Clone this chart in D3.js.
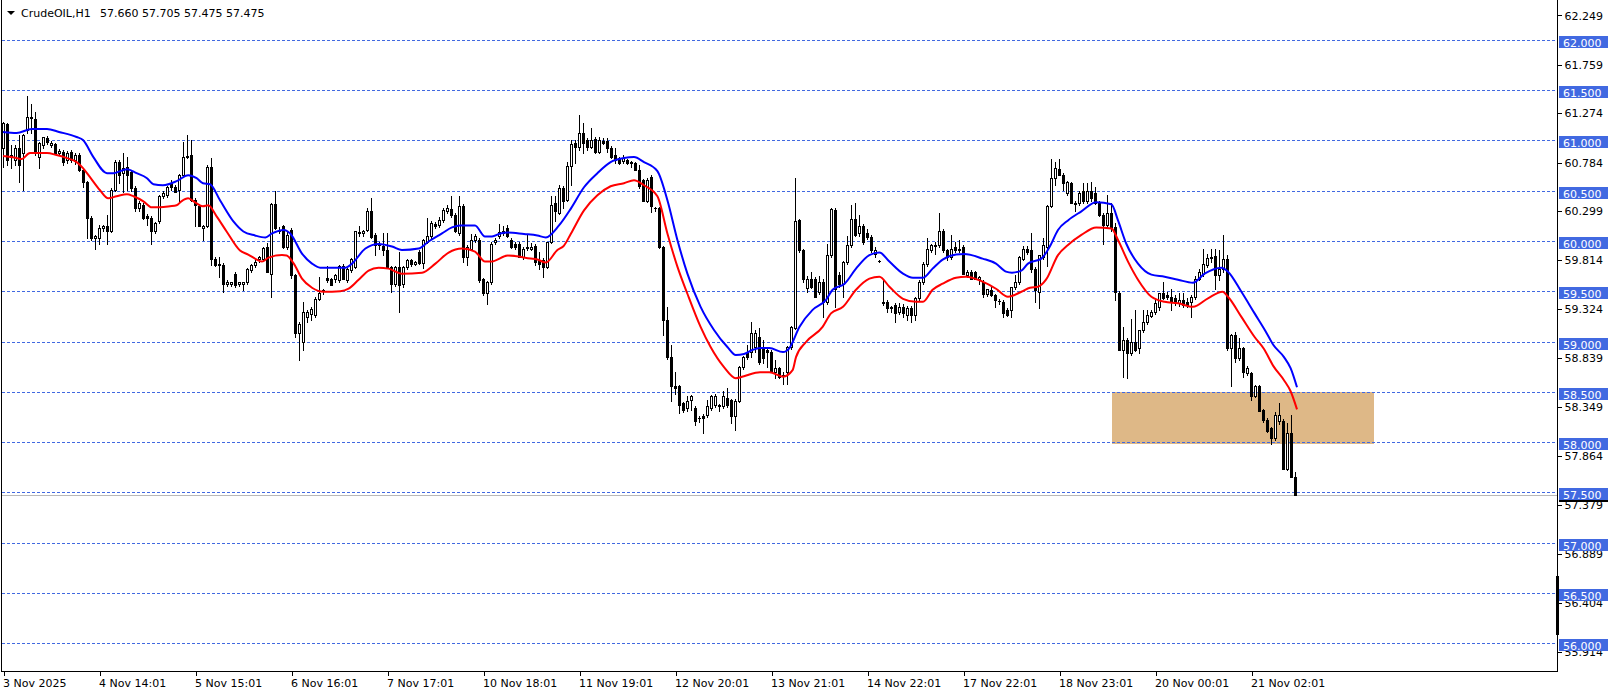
<!DOCTYPE html>
<html><head><meta charset="utf-8">
<script src="https://cdn.jsdelivr.net/npm/d3@7"></script>
<style>
body{margin:0;background:#fff;}
svg{display:block;}
text{font-family:"DejaVu Sans",sans-serif;font-size:11px;}
</style>
</head><body><svg id="c" width="1614" height="695"></svg>
<script>
// ---------------- data ----------------
const symbolTitle = "CrudeOIL,H1";
const ohlcTitle = "57.660 57.705 57.475 57.475";

const opens = [
60.93,61.17,60.86,60.81,60.93,60.88,61.11,61.24,61.22,60.84,
60.96,61.03,60.96,60.97,60.88,60.89,60.81,60.89,60.81,60.86,
60.71,60.59,60.23,60.03,60.03,60.13,60.15,60.10,60.51,60.79,
60.68,60.74,60.69,60.53,60.33,60.36,60.25,60.23,60.10,60.20,
60.45,60.46,60.58,60.545,60.51,60.66,60.84,60.86,60.41,60.35,
60.13,60.15,60.74,59.83,59.77,59.77,59.58,59.58,59.68,59.58,
59.58,59.60,59.72,59.77,59.83,59.83,59.95,59.68,60.37,60.115,
60.15,59.95,60.115,59.67,59.09,59.00,59.25,59.28,59.27,59.43,
59.52,59.64,59.63,59.63,59.62,59.76,59.62,59.72,59.75,60.09,
60.08,60.11,60.30,60.065,59.975,59.955,59.92,59.75,59.58,59.75,
59.58,59.75,59.82,59.78,59.90,59.79,60.00,60.05,60.17,60.16,
60.21,60.30,60.32,60.26,60.08,60.35,59.85,59.93,60.015,60.015,
59.63,59.49,59.60,60.00,60.05,60.08,60.13,60.015,59.975,59.98,
59.85,59.94,59.93,59.96,59.82,59.82,59.75,60.00,60.38,60.28,
60.53,60.41,60.75,60.98,60.94,61.08,61.01,60.94,61.02,60.89,
61.00,61.00,60.93,60.86,60.83,60.80,60.81,60.79,60.78,60.71,
60.61,60.40,60.645,60.33,60.33,59.95,59.22,58.85,58.56,58.56,
58.39,58.34,58.42,58.34,58.24,58.26,58.27,58.34,58.37,58.37,
58.36,58.44,58.42,58.26,58.41,58.75,58.90,58.90,58.95,59.05,
58.94,58.92,58.90,58.70,58.74,58.66,58.70,58.95,59.14,60.21,
59.915,59.54,59.63,59.63,59.50,59.60,59.40,59.865,60.31,59.67,
59.58,59.80,59.965,60.22,60.08,60.15,60.08,60.04,59.88,59.81,
59.385,59.40,59.35,59.37,59.30,59.35,59.27,59.335,59.27,59.435,
59.60,59.78,59.915,59.97,59.965,60.10,59.915,59.85,59.95,59.915,
59.95,59.67,59.70,59.70,59.63,59.60,59.48,59.52,59.47,59.41,
59.40,59.32,59.32,59.55,59.60,59.83,59.925,59.915,59.73,59.50,
59.85,59.95,60.35,60.63,60.72,60.66,60.48,60.58,60.385,60.38,
60.50,60.40,60.50,60.48,60.38,60.26,60.165,60.28,60.14,59.49,
58.92,59.02,58.89,59.00,58.94,59.12,59.20,59.26,59.30,59.35,
59.485,59.47,59.45,59.435,59.385,59.42,59.40,59.40,59.45,59.63,
59.68,59.77,59.84,59.86,59.67,59.73,59.83,58.94,59.07,58.84,
58.94,58.69,58.69,58.46,58.56,58.32,58.22,58.14,58.04,58.21,
58.21,57.74,58.09,57.66];

const highs = [
61.19,61.18,60.96,60.96,61.06,61.07,61.45,61.37,61.29,60.99,
61.04,61.05,61.00,60.98,60.92,60.91,60.90,60.91,60.88,60.88,
60.72,60.60,60.25,60.06,60.16,60.16,60.26,60.53,60.81,60.81,
60.88,60.84,60.71,60.55,60.40,60.38,60.27,60.25,60.19,60.46,
60.50,60.55,60.61,60.56,60.67,60.99,61.06,61.01,60.43,60.36,
60.16,60.76,60.83,59.85,59.85,59.79,59.62,59.60,59.70,59.60,
59.60,59.74,59.78,59.82,59.86,59.95,59.99,60.38,60.50,60.14,
60.16,60.10,60.13,59.68,59.20,59.40,59.32,59.35,59.45,59.65,
59.53,59.76,59.64,59.68,59.77,59.78,59.74,59.84,60.10,60.15,
60.11,60.33,60.43,60.08,60.00,60.08,60.08,59.76,59.76,59.90,
59.76,59.83,59.83,59.81,59.92,60.02,60.23,60.20,60.19,60.24,
60.33,60.36,60.45,60.28,60.45,60.37,59.97,60.07,60.07,60.03,
59.64,59.61,60.00,60.03,60.17,60.15,60.16,60.03,60.00,60.00,
59.95,60.07,59.99,59.98,59.90,59.84,60.00,60.45,60.45,60.56,
60.55,60.79,61.01,61.01,61.26,61.18,61.03,61.13,61.04,61.04,
61.03,61.03,60.95,60.93,60.84,60.86,60.82,60.80,60.79,60.76,
60.62,60.63,60.66,60.34,60.34,59.96,59.35,58.97,58.70,58.57,
58.40,58.46,58.47,58.36,58.26,58.28,58.42,58.47,58.48,58.38,
58.51,58.54,58.43,58.43,58.76,58.86,58.97,59.20,59.12,59.14,
59.02,58.94,58.92,58.82,58.75,58.70,58.96,59.16,60.63,60.22,
59.93,59.66,59.70,59.65,59.66,59.63,59.98,60.33,60.33,59.70,
59.81,60.05,60.36,60.38,60.26,60.17,60.12,60.06,59.95,59.82,
59.62,59.42,59.36,59.39,59.39,59.38,59.36,59.36,59.45,59.62,
59.80,60.03,59.98,60.00,60.28,60.12,59.93,60.06,60.00,60.01,
59.97,59.72,59.72,59.71,59.66,59.62,59.53,59.55,59.48,59.43,
59.42,59.34,59.55,59.67,59.86,59.96,59.96,60.08,59.75,59.87,
60.03,60.36,60.82,60.795,60.82,60.68,60.60,60.59,60.40,60.50,
60.58,60.58,60.595,60.545,60.40,60.28,60.46,60.38,60.18,59.51,
59.15,59.04,59.23,59.32,59.12,59.32,59.32,59.32,59.42,59.49,
59.60,59.50,59.53,59.47,59.49,59.49,59.44,59.47,59.66,59.73,
59.93,59.88,59.93,59.93,59.915,60.065,59.87,59.08,59.10,59.04,
58.95,58.76,58.70,58.57,58.57,58.33,58.24,58.15,58.30,58.39,
58.23,58.19,58.27,57.705];

const lows = [
60.74,60.76,60.73,60.76,60.59,60.51,61.08,61.08,60.86,60.73,
60.93,60.97,60.94,60.87,60.86,60.76,60.78,60.79,60.77,60.70,
60.545,60.03,60.01,59.93,59.98,60.10,59.98,60.09,60.50,60.58,
60.495,60.51,60.50,60.30,60.30,60.22,60.16,59.98,60.08,60.18,
60.43,60.44,60.51,60.49,60.38,60.64,60.83,60.40,60.15,60.15,
60.01,60.14,59.77,59.76,59.65,59.50,59.56,59.56,59.55,59.56,
59.52,59.58,59.70,59.75,59.80,59.81,59.70,59.45,60.12,60.08,
59.94,59.93,59.64,59.05,58.82,58.92,59.20,59.22,59.25,59.42,
59.48,59.60,59.57,59.60,59.60,59.63,59.60,59.70,59.74,60.05,
60.05,60.10,60.03,59.865,59.93,59.865,59.75,59.50,59.56,59.30,
59.55,59.73,59.76,59.77,59.78,59.74,59.99,60.03,60.13,60.14,
60.19,60.28,60.24,60.09,60.06,59.80,59.77,59.92,60.00,59.60,
59.47,59.38,59.58,59.98,60.03,60.06,60.04,59.94,59.93,59.85,
59.83,59.92,59.92,59.77,59.73,59.65,59.74,59.99,60.20,60.27,
60.33,60.40,60.56,60.78,60.91,60.88,60.91,60.93,60.88,60.88,
60.97,60.89,60.83,60.78,60.77,60.78,60.77,60.745,60.71,60.53,
60.40,60.39,60.29,60.30,59.94,59.07,58.83,58.41,58.48,58.29,
58.30,58.31,58.32,58.17,58.20,58.09,58.25,58.32,58.35,58.31,
58.34,58.35,58.19,58.12,58.40,58.73,58.83,58.85,58.90,58.78,
58.79,58.75,58.70,58.64,58.64,58.58,58.58,58.93,59.13,59.90,
59.60,59.50,59.54,59.45,59.48,59.25,59.38,59.85,59.35,59.55,
59.45,59.78,59.95,60.05,60.05,59.98,60.02,59.90,59.85,59.80,
59.37,59.30,59.30,59.20,59.28,59.25,59.22,59.20,59.22,59.42,
59.58,59.76,59.90,59.88,59.95,59.90,59.82,59.83,59.90,59.90,
59.68,59.65,59.63,59.63,59.58,59.45,59.46,59.46,59.35,59.38,
59.25,59.26,59.25,59.53,59.58,59.82,59.88,59.70,59.40,59.335,
59.83,59.76,60.34,60.56,60.66,60.51,60.46,60.38,60.30,60.36,
60.38,60.38,60.40,60.37,60.25,59.98,60.14,60.10,59.42,58.92,
58.655,58.64,58.87,58.91,58.89,59.10,59.18,59.25,59.28,59.32,
59.43,59.43,59.32,59.37,59.36,59.35,59.35,59.25,59.43,59.62,
59.66,59.75,59.80,59.53,59.62,59.70,58.92,58.56,58.80,58.82,
58.65,58.67,58.42,58.45,58.31,58.20,58.10,57.99,58.02,58.18,
57.74,57.73,57.66,57.475];

const closes = [
61.18,60.81,60.84,60.93,60.76,61.06,61.24,61.23,60.88,60.98,
61.04,60.99,60.98,60.88,60.90,60.79,60.88,60.81,60.86,60.71,
60.59,60.23,60.03,60.05,60.13,60.15,60.10,60.51,60.79,60.66,
60.73,60.66,60.53,60.33,60.38,60.23,60.23,60.10,60.18,60.45,
60.48,60.545,60.545,60.495,60.66,60.84,60.85,60.41,60.36,60.15,
60.15,60.74,59.83,59.77,59.78,59.58,59.60,59.60,59.57,59.60,
59.60,59.73,59.77,59.80,59.85,59.94,59.70,60.37,60.13,60.10,
59.95,60.065,59.67,59.09,59.18,59.30,59.30,59.33,59.43,59.49,
59.52,59.62,59.57,59.67,59.76,59.63,59.73,59.83,60.10,60.08,
60.10,60.30,60.04,59.965,59.965,59.915,59.75,59.58,59.75,59.57,
59.75,59.82,59.78,59.80,59.79,60.015,60.05,60.18,60.15,60.21,
60.31,60.33,60.26,60.10,60.35,59.85,59.95,60.015,60.05,59.62,
59.484,59.60,59.98,60.015,60.09,60.10,60.05,59.95,59.95,59.85,
59.93,59.95,59.95,59.80,59.78,59.75,60.00,60.36,60.30,60.53,
60.40,60.75,60.97,60.94,61.08,60.98,60.94,61.01,60.89,61.01,
60.98,60.93,60.84,60.81,60.78,60.83,60.78,60.78,60.71,60.55,
60.40,60.61,60.35,60.33,59.95,59.22,58.85,58.56,58.54,58.37,
58.32,58.41,58.46,58.21,58.24,58.24,58.36,58.46,58.46,58.36,
58.46,58.37,58.26,58.41,58.75,58.85,58.85,59.09,59.09,58.80,
58.84,58.90,58.70,58.74,58.65,58.67,58.95,59.15,60.20,59.915,
59.63,59.63,59.55,59.45,59.60,59.40,59.865,60.32,59.53,59.58,
59.80,59.965,60.22,60.06,60.15,59.995,60.04,59.915,59.915,59.81,
59.40,59.335,59.335,59.285,59.35,59.285,59.335,59.27,59.435,59.60,
59.78,59.93,59.965,59.96,60.10,59.915,59.85,59.93,59.915,59.93,
59.68,59.70,59.63,59.63,59.65,59.48,59.53,59.47,59.42,59.41,
59.285,59.27,59.55,59.60,59.85,59.93,59.90,59.73,59.52,59.865,
59.965,60.35,60.63,60.73,60.66,60.58,60.59,60.38,60.375,60.48,
60.40,60.50,60.43,60.38,60.26,60.165,60.28,60.13,59.50,58.92,
59.02,58.89,59.00,58.92,59.12,59.20,59.27,59.30,59.39,59.485,
59.435,59.45,59.40,59.385,59.42,59.37,59.37,59.45,59.63,59.70,
59.78,59.84,59.85,59.67,59.73,59.83,58.94,59.07,58.84,58.94,
58.70,58.74,58.46,58.56,58.31,58.22,58.11,58.04,58.27,58.27,
57.74,58.09,57.66,57.475];

// moving averages (bar index, price)
const blueMaBars = [0,3.4,7.2,11,14,18.4,20,22.6,26,27.6,31,33.4,36,37.6,40,43.4,46.3,48.4,50,51.75,54.25,57.6,60.1,63,65.6,67.25,70.2,71.8,74.75,77.25,79.3,85.6,87.25,90.6,93.9,97.25,99.75,103.9,106.4,109.75,112.25,114.3,118,120.5,122.25,124.3,126.25,130.25,133.6,135.7,139,142,145.25,148.6,151.9,155.25,157.75,160.25,163.6,166.1,168.6,171.1,174.4,177.75,181.1,183.2,185.25,187.3,189.25,191.6,195,196.6,199.1,202.4,205.75,207.4,210.4,213.25,216.6,219.1,221.6,225,227.5,230,232.4,234.9,238.25,240.3,244.9,248.25,250.75,252.25,254.6,256.25,259.6,261.7,263.75,266.25,269.6,273.3,277.1,278.75,280.8,283.75,287.1,290.4,293.75,297.5,300.4,304.6,306.25,309.6,312.9,315.6,317.6,320.25,321.9,323.5];
const blueMaVals = [61.09,61.08,61.12,61.12,61.09,61.04,61.01,60.84,60.68,60.68,60.72,60.68,60.63,60.57,60.56,60.60,60.66,60.63,60.58,60.57,60.41,60.20,60.10,60.06,60.04,60.08,60.115,60.08,59.88,59.78,59.74,59.74,59.78,59.93,59.975,59.95,59.915,59.93,60.00,60.08,60.14,60.16,60.16,60.05,60.05,60.08,60.09,60.075,60.06,60.04,60.16,60.33,60.54,60.68,60.79,60.83,60.84,60.79,60.70,60.41,60.015,59.68,59.35,59.12,58.95,58.87,58.88,58.92,58.94,58.94,58.90,58.94,59.15,59.32,59.42,59.52,59.58,59.73,59.865,59.89,59.80,59.68,59.64,59.64,59.73,59.82,59.87,59.875,59.83,59.78,59.70,59.69,59.71,59.78,59.83,59.95,60.115,60.21,60.30,60.39,60.37,60.21,59.98,59.78,59.67,59.65,59.62,59.59,59.68,59.74,59.70,59.50,59.285,59.11,58.97,58.85,58.74,58.55];

const redMaBars = [0,3.4,4.6,6.75,11,13.4,16,18.4,20,21.75,24.25,26.3,28.4,31,32.6,35.1,37.2,39.25,41.75,43.4,44.6,46.3,48,50,51.3,53.4,55.9,59.25,61.3,63,64.75,66.4,69.75,70.9,72.7,74.75,77.25,80.2,84.3,86.4,88.9,91.4,93.9,96.4,99.75,104.75,108.1,111.4,114.75,118,120.5,122,126.25,131.9,133.6,135.7,138.6,140.25,142,145.25,148.6,151.9,155.25,157.75,160.25,163.6,166.1,168.6,171.1,174.4,176.9,180.25,183.2,185.25,189.25,191.6,195,197.4,198.25,200.75,204.9,207,210,213.25,216.6,219.1,221.6,225,228.25,230,232.4,234.9,238.25,240.75,244.9,248.25,251.25,254.6,256.75,258.75,260.75,263.75,266.25,269.6,273.3,277.1,278.75,281.25,283.75,287.1,290.4,293.75,297.5,301.25,304.9,306.25,309.6,312.9,315.25,317.6,320.25,321.9,323.5];
const redMaVals = [60.85,60.83,60.82,60.88,60.88,60.86,60.83,60.79,60.73,60.64,60.51,60.43,60.45,60.47,60.45,60.40,60.34,60.34,60.35,60.36,60.40,60.43,60.39,60.35,60.36,60.25,60.10,59.91,59.87,59.83,59.80,59.84,59.865,59.86,59.78,59.63,59.54,59.50,59.505,59.53,59.62,59.71,59.74,59.73,59.68,59.69,59.78,59.89,59.93,59.90,59.80,59.80,59.86,59.83,59.82,59.79,59.915,59.96,60.08,60.31,60.46,60.55,60.58,60.61,60.56,60.45,60.08,59.75,59.48,59.15,58.95,58.75,58.64,58.66,58.70,58.70,58.655,58.72,58.85,59.00,59.15,59.285,59.35,59.52,59.63,59.65,59.55,59.43,59.40,59.40,59.52,59.58,59.64,59.65,59.60,59.53,59.45,59.50,59.54,59.55,59.62,59.865,59.965,60.065,60.14,60.13,60.015,59.80,59.62,59.45,59.40,59.385,59.35,59.435,59.50,59.45,59.25,59.05,58.93,58.76,58.62,58.51,58.33];

const xTickBars = [0,24,48,72,96,120,144,168,192,216,240,264,288,312];
const xTickLabels = ["3 Nov 2025","4 Nov 14:01","5 Nov 15:01","6 Nov 16:01","7 Nov 17:01","10 Nov 18:01","11 Nov 19:01","12 Nov 20:01","13 Nov 21:01","14 Nov 22:01","17 Nov 22:01","18 Nov 23:01","20 Nov 00:01","21 Nov 02:01"];
const priceTicks = [62.249,61.759,61.274,60.784,60.299,59.814,59.324,58.839,58.349,57.864,57.379,56.889,56.404,55.914];
const levelLines = [62.0,61.5,61.0,60.5,60.0,59.5,59.0,58.5,58.0,57.5,57.0,56.5,56.0];
const zoneBars = [277.25, 342.75];
const zonePrices = [58.5, 58.0];
const bidPrice = 57.475;

// ---------------- drawing ----------------
const W = 1614, H = 695;
const plotL = 2, plotR = 1557, plotB = 671;
const svg = d3.select("#c");
svg.append("rect").attr("width", W).attr("height", H).attr("fill", "#fff");

const x = d3.scaleLinear().domain([0, 388.5]).range([3, plotR]);
const y = d3.scaleLinear().domain([56, 62]).range([643.5, 40.5]);

svg.append("defs").append("clipPath").attr("id", "clip")
  .append("rect").attr("x", plotL).attr("y", 0).attr("width", plotR - plotL).attr("height", plotB);

const plot = svg.append("g").attr("clip-path", "url(#clip)").attr("shape-rendering", "crispEdges");

// zone rectangle
plot.append("rect")
  .attr("x", Math.round(x(zoneBars[0])))
  .attr("y", Math.round(y(zonePrices[0])))
  .attr("width", Math.round(x(zoneBars[1])) - Math.round(x(zoneBars[0])))
  .attr("height", Math.round(y(zonePrices[1])) - Math.round(y(zonePrices[0])) + 1)
  .attr("fill", "#DEB887");

// horizontal level lines
const blueC = "#4169E1";
plot.selectAll("line.lvl").data(levelLines).join("line").attr("class", "lvl")
  .attr("x1", plotL).attr("x2", plotR)
  .attr("y1", d => Math.floor(y(d)) + 0.5).attr("y2", d => Math.floor(y(d)) + 0.5)
  .attr("stroke", blueC).attr("stroke-width", 1).attr("stroke-dasharray", "3,2");

// bid line
plot.append("line").attr("x1", plotL).attr("x2", plotR)
  .attr("y1", Math.round(y(bidPrice)) + 0.5).attr("y2", Math.round(y(bidPrice)) + 0.5)
  .attr("stroke", "#B8B8B8").attr("stroke-width", 1);

// candles
const idx = d3.range(opens.length);
const cx = i => Math.round(x(i));
plot.selectAll("line.wick").data(idx).join("line").attr("class", "wick")
  .attr("x1", i => cx(i) + 0.5).attr("x2", i => cx(i) + 0.5)
  .attr("y1", i => Math.round(y(highs[i])))
  .attr("y2", i => Math.round(y(lows[i])) + 1)
  .attr("stroke", "#000").attr("stroke-width", 1);

idx.forEach(i => {
  const top = Math.round(y(Math.max(opens[i], closes[i])));
  const bot = Math.round(y(Math.min(opens[i], closes[i])));
  const h = bot - top + 1;
  const bull = closes[i] > opens[i];
  if (!bull || h < 3) {
    plot.append("rect").attr("x", cx(i) - 1).attr("y", top).attr("width", 3).attr("height", h).attr("fill", "#000");
  } else {
    plot.append("rect").attr("x", cx(i) - 0.5).attr("y", top + 0.5).attr("width", 2).attr("height", h - 1)
      .attr("fill", "#fff").attr("stroke", "#000").attr("stroke-width", 1);
  }
});

// moving averages
const maLine = d3.line().x(d => x(d[0])).y(d => y(d[1])).curve(d3.curveMonotoneX);
const mas = svg.append("g").attr("clip-path", "url(#clip)");
mas.append("path").attr("d", maLine(d3.zip(blueMaBars, blueMaVals)))
  .attr("fill", "none").attr("stroke", "#0000FF").attr("stroke-width", 2);
mas.append("path").attr("d", maLine(d3.zip(redMaBars, redMaVals)))
  .attr("fill", "none").attr("stroke", "#FF0000").attr("stroke-width", 2);

// frame
const frame = svg.append("g").attr("shape-rendering", "crispEdges");
frame.append("line").attr("x1", plotR + 0.5).attr("x2", plotR + 0.5).attr("y1", 0).attr("y2", plotB + 1).attr("stroke", "#000");
frame.append("line").attr("x1", plotL - 0.5).attr("x2", plotR + 1).attr("y1", plotB + 0.5).attr("y2", plotB + 0.5).attr("stroke", "#000");
frame.append("line").attr("x1", plotL - 0.5).attr("x2", plotL - 0.5).attr("y1", 0).attr("y2", plotB + 1).attr("stroke", "#000");

// right price axis
const yAxis = d3.axisRight(y).tickValues(priceTicks).tickFormat(d3.format(".3f")).tickSize(4).tickPadding(3);
const ya = svg.append("g").attr("transform", `translate(${plotR + 0.5},0)`).call(yAxis);
ya.select(".domain").remove();
ya.selectAll("line").attr("stroke", "#000").attr("shape-rendering", "crispEdges");
ya.selectAll("text").attr("fill", "#000").style("font-family", '"DejaVu Sans",sans-serif').style("font-size", "11px");

// bid marker under 57.500 label
svg.append("rect").attr("x", 1559).attr("y", Math.round(y(bidPrice)) - 6).attr("width", 49).attr("height", 13).attr("fill", "#000");

// level labels
const lab = svg.append("g").attr("shape-rendering", "crispEdges");
levelLines.forEach(p => {
  const yy = Math.floor(y(p));
  lab.append("rect").attr("x", 1559).attr("y", yy - 4).attr("width", 49).attr("height", 12).attr("fill", blueC);
  lab.append("text").attr("x", 1563).attr("y", yy + 6.5).attr("fill", "#fff").text(d3.format(".3f")(p));
});

// scroll marker on the right border
svg.append("rect").attr("x", 1556).attr("y", 576).attr("width", 3).attr("height", 59).attr("fill", "#000");

// bottom time axis
const xAxis = d3.axisBottom(x).tickValues(xTickBars).tickFormat((d, i) => xTickLabels[i]).tickSize(4).tickPadding(4);
const xa = svg.append("g").attr("transform", `translate(0.5,${plotB + 0.5})`).call(xAxis);
xa.select(".domain").remove();
xa.selectAll("line").attr("stroke", "#000").attr("shape-rendering", "crispEdges");
xa.selectAll("text").attr("fill", "#000").attr("text-anchor", "start").attr("dx", "-1")
  .style("font-family", '"DejaVu Sans",sans-serif').style("font-size", "11px");

// title
svg.append("path").attr("d", "M7,11 L15,11 L11,15 Z").attr("fill", "#000");
svg.append("text").attr("x", 21).attr("y", 17).attr("fill", "#000").text(symbolTitle);
svg.append("text").attr("x", 100).attr("y", 17).attr("fill", "#000").text(ohlcTitle);
</script>
</body></html>
